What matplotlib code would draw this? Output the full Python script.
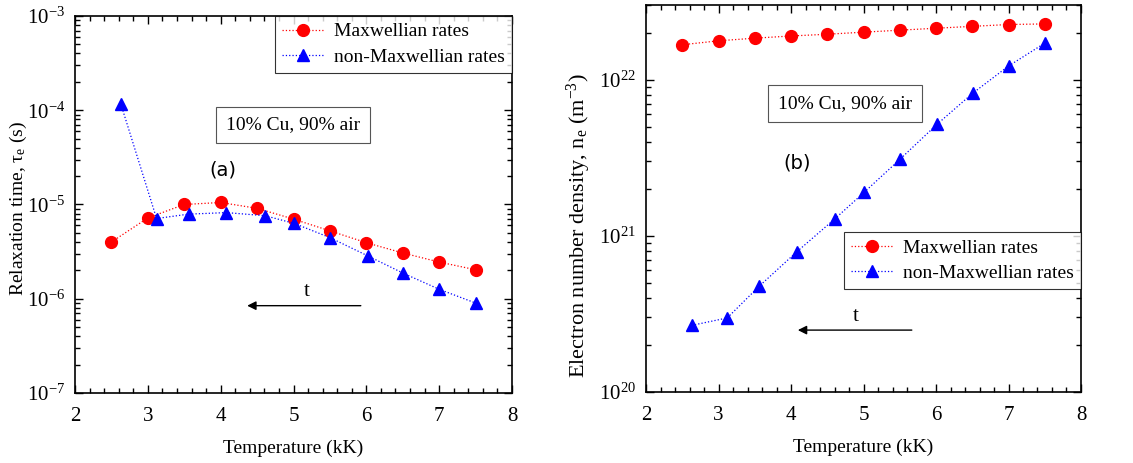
import matplotlib
matplotlib.use("Agg")
import matplotlib.pyplot as plt
from matplotlib.ticker import LogLocator, MultipleLocator, NullFormatter

plt.rcParams['font.family'] = ['Liberation Serif', 'DejaVu Serif']
plt.rcParams['mathtext.fontset'] = 'custom'
plt.rcParams['mathtext.rm'] = 'Liberation Serif'
plt.rcParams['mathtext.it'] = 'Liberation Serif:italic'
plt.rcParams['font.size'] = 14

# temperatures (kK)
T_max = [2.5, 3.0, 3.5, 4.0, 4.5, 5.0, 5.5, 6.0, 6.5, 7.0, 7.5]
T_nonmax = [2.63, 3.12, 3.56, 4.08, 4.61, 5.01, 5.50, 6.02, 6.51, 7.00, 7.50]

# (a) relaxation time (s)
tau_max = [4.0e-6, 7.2e-6, 1.0e-5, 1.05e-5, 9.1e-6, 7.0e-6, 5.25e-6, 3.93e-6, 3.06e-6, 2.45e-6, 2.03e-6]
tau_nonmax = [1.16e-4, 7.1e-6, 7.9e-6, 8.2e-6, 7.6e-6, 6.3e-6, 4.45e-6, 2.85e-6, 1.86e-6, 1.26e-6, 9.0e-7]

# (b) electron number density (m^-3)
ne_max = [1.67e22, 1.77e22, 1.84e22, 1.90e22, 1.95e22, 2.01e22, 2.07e22, 2.13e22, 2.19e22, 2.25e22, 2.27e22]
ne_nonmax = [2.67e20, 2.98e20, 4.75e20, 7.9e20, 1.29e21, 1.9e21, 3.08e21, 5.2e21, 8.2e21, 1.22e22, 1.71e22]

RED = '#ff0000'
BLUE = '#0000ff'


def style_axis(ax, ylim):
    ax.set_yscale('log')
    ax.set_xlim(2, 8)
    ax.set_ylim(*ylim)
    ax.xaxis.set_major_locator(MultipleLocator(1))
    ax.xaxis.set_minor_locator(MultipleLocator(0.2))
    ax.yaxis.set_major_locator(LogLocator(base=10, numticks=20))
    ax.yaxis.set_minor_locator(LogLocator(base=10, subs=range(2, 10), numticks=20))
    ax.yaxis.set_minor_formatter(NullFormatter())
    ax.tick_params(which='both', direction='in', top=True, right=True, width=1.0)
    ax.tick_params(which='major', length=6, labelsize=15, pad=7)
    ax.tick_params(axis='x', which='major', pad=10)
    ax.tick_params(which='minor', length=3.5)
    for s in ax.spines.values():
        s.set_linewidth(1.2)
    ax.set_xlabel('Temperature (kK)', fontsize=14, labelpad=10)


def draw_series(ax, y1, y2):
    ax.plot(T_max, y1, ':', color=RED, lw=0.9, marker='o', ms=8.5,
            mec=RED, mfc=RED, label='Maxwellian rates')
    ax.plot(T_nonmax, y2, ':', color=BLUE, lw=0.9, marker='^', ms=9,
            mec=BLUE, mfc=BLUE, label='non-Maxwellian rates')


def add_legend(ax, **kw):
    leg = ax.legend(borderaxespad=0, fancybox=False, fontsize=14, handlelength=2.2,
                    handletextpad=0.5, borderpad=0.35, labelspacing=0.4, **kw)
    leg.get_frame().set_edgecolor('black')
    leg.get_frame().set_linewidth(0.8)


def label_box(ax, x, y):
    ax.text(x, y, '10% Cu, 90% air', transform=ax.transAxes, ha='center', va='center',
            fontsize=14, bbox=dict(boxstyle='square,pad=0.5', fc='white', ec='#555555', lw=0.8))


def time_arrow(ax, x0, x1, y, tx, ty):
    ax.annotate('', xy=(x1, y), xytext=(x0, y), xycoords='axes fraction',
                arrowprops=dict(arrowstyle='-|>', color='black', lw=1.0,
                                mutation_scale=13, shrinkA=0, shrinkB=0))
    ax.text(tx, ty, 't', transform=ax.transAxes, ha='center', va='center', fontsize=15)


fig = plt.figure(figsize=(11.33, 4.63), dpi=100)
ax1 = fig.add_axes([0.0662, 0.1512, 0.3857, 0.8143])
ax2 = fig.add_axes([0.5702, 0.1533, 0.3839, 0.8359])

# (a)
draw_series(ax1, tau_max, tau_nonmax)
style_axis(ax1, (1e-7, 1e-3))
ax1.set_ylabel('Relaxation time, τ$_{\\rm e}$ (s)', fontsize=14)
ax1.yaxis.set_label_coords(-0.105, 0.49)
add_legend(ax1, loc='upper right')
label_box(ax1, 0.499, 0.711)
ax1.text(0.338, 0.592, '(a)', transform=ax1.transAxes, ha='center', va='center',
         fontsize=14, family='DejaVu Sans')
time_arrow(ax1, 0.654, 0.394, 0.2316, 0.530, 0.268)

# (b)
draw_series(ax2, ne_max, ne_nonmax)
style_axis(ax2, (1e20, 3e22))
ax2.set_ylabel(r'Electron number density, n$_{\rm e}$ (m$^{-3}$)', fontsize=16)
ax2.yaxis.set_label_coords(-0.122, 0.43)
add_legend(ax2, loc='lower right', bbox_to_anchor=(1.0, 0.266))
label_box(ax2, 0.4575, 0.745)
ax2.text(0.347, 0.592, '(b)', transform=ax2.transAxes, ha='center', va='center',
         fontsize=14, family='DejaVu Sans')
time_arrow(ax2, 0.611, 0.349, 0.160, 0.483, 0.196)

fig.savefig('out.png', dpi=100)
